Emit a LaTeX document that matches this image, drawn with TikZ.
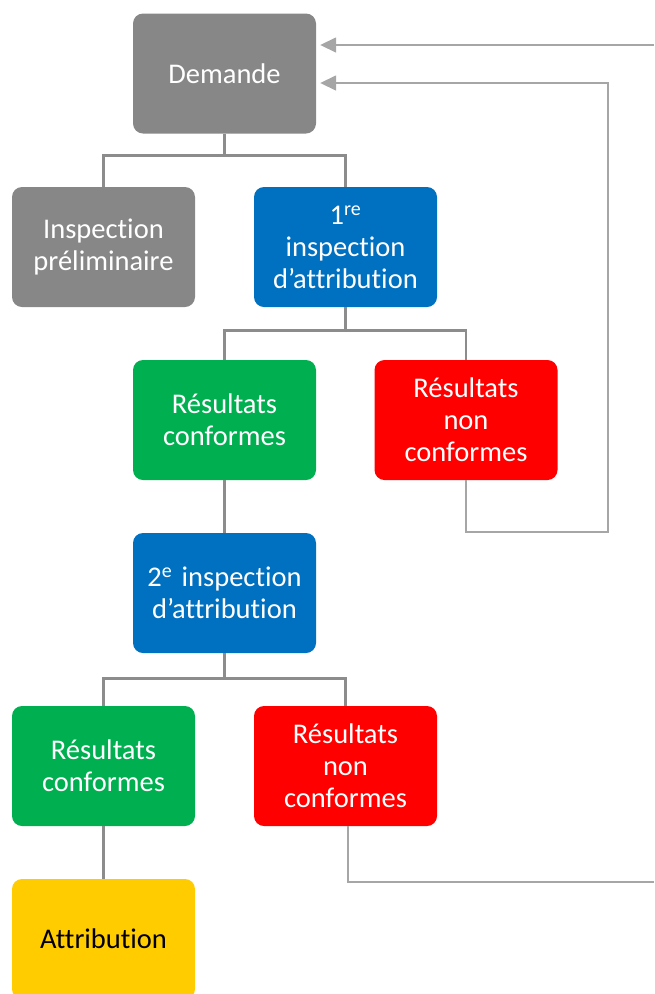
\documentclass[tikz,border=0pt]{standalone}
\usepackage{fontspec}
\setmainfont{Carlito}[Ligatures={NoCommon}]
\usetikzlibrary{arrows.meta}
\definecolor{boxgray}{HTML}{878787}
\definecolor{boxblue}{HTML}{0070C0}
\definecolor{boxgreen}{HTML}{00B050}
\definecolor{boxred}{HTML}{FF0000}
\definecolor{boxyellow}{HTML}{FFCC00}
\definecolor{treeline}{HTML}{8C8C8C}
\definecolor{backline}{HTML}{A6A6A6}
\tikzset{
  box/.style={rectangle, rounded corners=10pt, minimum width=183pt, minimum height=120pt,
    text width=180pt, align=center, text=white, inner sep=0pt,
    font=\fontsize{28.5}{32}\selectfont},
  graybox/.style={box, fill=boxgray},
  bluebox/.style={box, fill=boxblue},
  greenbox/.style={box, fill=boxgreen},
  redbox/.style={box, fill=boxred},
  yellowbox/.style={box, fill=boxyellow, text=black},
  tree/.style={draw=treeline, line width=2.6pt},
  back/.style={draw=backline, line width=1.6pt},
  backarrow/.style={back, -{Triangle[length=16pt,width=15pt]}, shorten >=4pt},
}
\begin{document}
\begin{tikzpicture}[x=1pt,y=-1pt]
\useasboundingbox (0,0) rectangle (654,994);
\clip (0,0) rectangle (654,994);
\node[graybox] (dem) at (224.5,73.5) {Demande};
\node[graybox] (pre) at (103.5,247) {Inspection\\préliminaire};
\node[bluebox] (ins1) at (345.5,247) {1\textsuperscript{re}\\inspection\\d’attribution};
\node[greenbox] (rc1) at (224.5,420) {Résultats\\conformes};
\node[redbox] (rnc1) at (466,420) {Résultats\\non\\conformes};
\node[bluebox] (ins2) at (224.5,593) {2\textsuperscript{e}~inspection\\d’attribution};
\node[greenbox] (rc2) at (103.5,766) {Résultats\\conformes};
\node[redbox] (rnc2) at (345.5,766) {Résultats\\non\\conformes};
\node[yellowbox] (attr) at (103.5,939) {Attribution};
% tree connectors
\draw[tree] (dem.south) -- ++(0,22) -| (pre.north);
\draw[tree] (dem.south) ++(0,22) -| (ins1.north);
\draw[tree] (ins1.south) -- ++(0,23) -| (rc1.north);
\draw[tree] (ins1.south) ++(0,23) -| (rnc1.north);
\draw[tree] (rc1.south) -- (ins2.north);
\draw[tree] (ins2.south) -- ++(0,25) -| (rc2.north);
\draw[tree] (ins2.south) ++(0,25) -| (rnc2.north);
\draw[tree] (rc2.south) -- (attr.north);
% feedback connectors
\coordinate (in1) at (654,45);
\coordinate (out2) at (654,882);
\draw[backarrow] (in1) -- (dem.east |- in1);
\draw[backarrow] (rnc1.south) -- ++(0,52) -| (608,83) -- (dem.east |- 0,83);
\draw[back] (rnc2.south -| 348,0) -- (348,882) -- (out2);
\end{tikzpicture}
\end{document}
